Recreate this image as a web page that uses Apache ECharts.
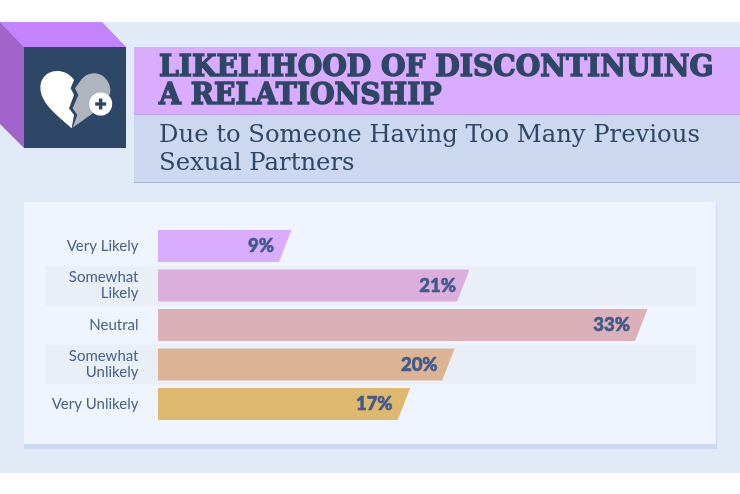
<!DOCTYPE html>
<html><head><meta charset="utf-8">
<style>html,body{margin:0;padding:0;background:#fff}#c{width:740px;height:494px}</style>
<script src="https://cdn.jsdelivr.net/npm/echarts@6/dist/echarts.min.js"></script>
</head><body><div id="c"></div>
<script>
const categories = ['Very Likely', 'Somewhat\nLikely', 'Neutral', 'Somewhat\nUnlikely', 'Very Unlikely'];
const values = [9, 21, 33, 20, 17];
const barColors = ['#d9acfe', '#dbaedb', '#dcb0b8', '#dcb395', '#deb86f'];
const titleLines = ['LIKELIHOOD OF DISCONTINUING', 'A RELATIONSHIP'];
const subtitleLines = ['Due to Someone Having Too Many Previous', 'Sexual Partners'];

const NAVY = '#2f4766';
const rect = (x, y, w, h, fill) => ({type: 'rect', shape: {x, y, width: w, height: h}, style: {fill}});
const poly = (pts, fill) => ({type: 'polygon', shape: {points: pts}, style: {fill}});
const txt = (x, y, text, font, fill, extra) => ({type: 'text', x, y, style: Object.assign({text, font, fill, verticalAlign: 'middle'}, extra || {})});

// icon outline: lists of points in 3x space; 6-number entries are cubic curve segments
function outline(segs) {
  const out = [];
  let last = null;
  segs.forEach(s => {
    if (s.length === 2) { out.push(s); last = s; return; }
    for (let k = 1; k <= 12; k++) {
      const t = k / 12, u = 1 - t;
      out.push([
        u*u*u*last[0] + 3*u*u*t*s[0] + 3*u*t*t*s[2] + t*t*t*s[4],
        u*u*u*last[1] + 3*u*u*t*s[1] + 3*u*t*t*s[3] + t*t*t*s[5]
      ]);
    }
    last = [s[4], s[5]];
  });
  return out.map(p => [p[0] / 3, p[1] / 3]);
}
const heartLeft = outline([[215,385],[170,345,121,310,121,262],[121,232,145,213,170,213],[195,213,212,225,222,240],[212,265],[222,285],[207,325],[222,345]]);
const heartRight = outline([[218,383],[232,345],[218,325],[235,285],[225,265],[243,240],[255,225,270,220,283,220],[310,220,331,245,331,272],[331,310,270,345,218,383]]);

const titleFont = '900 29px "DejaVu Serif"';
const subFont = '24.3px "DejaVu Serif"';
const graphicEls = [
  rect(0, 22, 740, 451, '#e1ebf8'),
  poly([[0, 22], [102, 22], [126, 47], [24, 47]], '#c383fb'),
  poly([[0, 22], [24, 47], [24, 148], [0, 124]], '#a263cb'),
  rect(24, 47, 102, 101, NAVY),
  rect(134, 47, 606, 67, '#d9acfe'),
  rect(134, 114, 606, 1.5, '#c4a4ec'),
  rect(134, 115.5, 606, 66.5, '#cbd8f0'),
  rect(134, 182, 606, 1, '#a9b6d2'),
  rect(24, 204, 693, 245, '#cbd8f0'),
  rect(24, 202, 692, 242, '#eef5fe'),
  rect(45, 265.7, 651, 40, '#e8eff7'),
  rect(45, 344.5, 651, 40, '#e8eff7'),
  poly(heartLeft, '#ffffff'),
  poly(heartRight, '#aeb5bf'),
  {type: 'circle', shape: {cx: 100.7, cy: 104, r: 11.5}, style: {fill: '#ffffff'}},
  rect(95.2, 102.3, 11, 3.4, NAVY),
  rect(99, 98.5, 3.4, 11, NAVY),
  Object.assign(txt(159, 68.5, titleLines[0], titleFont, NAVY, {stroke: NAVY, lineWidth: 1.4}), {scaleX: 0.972}),
  Object.assign(txt(159, 96.5, titleLines[1], titleFont, NAVY, {stroke: NAVY, lineWidth: 1.4}), {scaleX: 0.972}),
  txt(159, 136, subtitleLines[0], subFont, NAVY),
  txt(159, 164, subtitleLines[1], subFont, NAVY)
];

const SLANT = 12.5;
const labelNudge = [0, 4, 0, 0.5, 0];
const chart = echarts.init(document.getElementById('c'), null, {renderer: 'canvas', width: 740, height: 494});
chart.setOption({
  animation: false,
  backgroundColor: '#ffffff',
  graphic: {elements: graphicEls},
  grid: {left: 158, top: 226.25, width: 534, height: 197.5, containLabel: false},
  xAxis: {type: 'value', min: 0, max: 36, show: false},
  yAxis: {
    type: 'category', inverse: true, data: categories,
    axisLine: {show: false}, axisTick: {show: false}, splitLine: {show: false},
    axisLabel: {margin: 19.5, align: 'right', color: '#4a6088', fontFamily: 'Lato', fontSize: 15, lineHeight: 16}
  },
  series: [{
    type: 'custom',
    coordinateSystem: 'cartesian2d',
    encode: {x: 0, y: 1},
    data: values.map((v, i) => [v, i]),
    z: 5,
    renderItem(params, api) {
      const i = api.value(1);
      const end = api.coord([api.value(0), i]);
      const start = api.coord([0, i]);
      const h = 32;
      const top = end[1] - h / 2, bot = end[1] + h / 2;
      return {
        type: 'group',
        children: [
          {type: 'polygon', shape: {points: [[start[0], top], [end[0], top], [end[0] - SLANT, bot], [start[0], bot]]},
           style: {fill: barColors[i]}},
          {type: 'text', x: end[0] - 17.5 + labelNudge[i], y: end[1] + 0.5,
           style: {text: api.value(0) + '%', fill: '#3f5b8a', stroke: '#3f5b8a', lineWidth: 0.6, font: '900 18.5px Lato', align: 'right', verticalAlign: 'middle'}}
        ]
      };
    }
  }]
});
</script></body></html>
